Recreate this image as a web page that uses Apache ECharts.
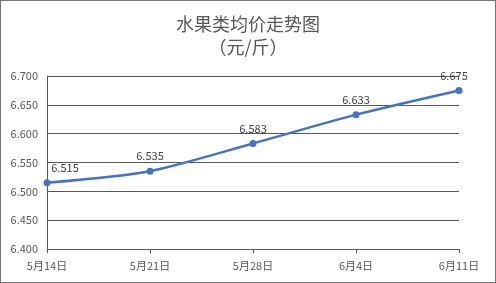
<!DOCTYPE html>
<html><head><meta charset="utf-8">
<script src="https://cdn.jsdelivr.net/npm/echarts@6/dist/echarts.min.js"></script>
<style>html,body{margin:0;padding:0;background:#fff}#c{width:496px;height:283px;box-sizing:border-box;border:1px solid #767676}</style>
</head><body><div id="c"></div>
<script>
var categories = ['5月14日','5月21日','5月28日','6月4日','6月11日'];
var values = [6.515, 6.535, 6.583, 6.633, 6.675];
var titleLines = ['水果类均价走势图','（元/斤）'];
var yMin = 6.4, yMax = 6.7, yStep = 0.05;

var chart = echarts.init(document.getElementById('c'), null, {renderer:'canvas'});
var font = '"Microsoft YaHei","Noto Sans CJK SC",sans-serif';
var data = values.map(function(v,i){
  var d = {value:v};
  if (i === 0) d.label = {offset:[18,0]};
  if (i === values.length-1) d.label = {offset:[-5,0]};
  return d;
});
chart.setOption({
  animation:false,
  title:{text:titleLines.join('\n'), left:'center', top:7,
    textStyle:{fontFamily:font, fontSize:18, fontWeight:'normal', color:'#595959', lineHeight:23}},
  grid:{left:46, right:36, top:75, bottom:33},
  xAxis:{type:'category', data:categories, boundaryGap:false,
    axisLine:{lineStyle:{color:'#595959'}},
    axisTick:{show:true, length:4, lineStyle:{color:'#595959'}},
    axisLabel:{fontFamily:font, fontSize:11, color:'#595959', margin:11}},
  yAxis:{type:'value', min:yMin, max:yMax, interval:yStep,
    axisLine:{show:true, lineStyle:{color:'#595959'}},
    axisTick:{show:false},
    splitLine:{lineStyle:{color:'#595959', width:1}},
    axisLabel:{fontFamily:font, fontSize:11, color:'#595959', margin:9,
      formatter:function(v){return v.toFixed(3);}}},
  series:[{type:'line', data:data, smooth:0.25,
    lineStyle:{color:'#4472C4', width:2.5},
    itemStyle:{color:'#4472C4'},
    symbol:'circle', symbolSize:7,
    label:{show:true, position:'top', distance:6, fontFamily:font, fontSize:11, color:'#404040',
      formatter:function(p){return p.value.toFixed(3);}}}]
});
</script></body></html>
